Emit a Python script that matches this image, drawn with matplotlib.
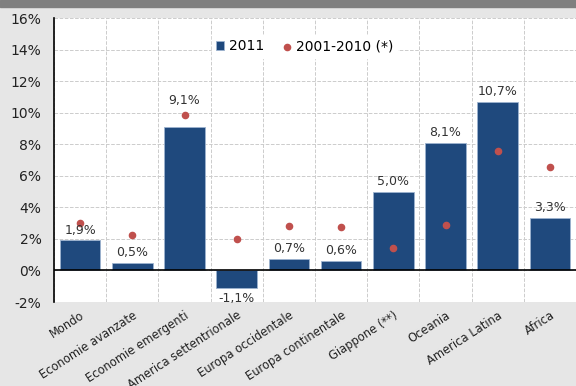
import matplotlib.pyplot as plt
import numpy as np

categories = ["Mondo", "Economie avanzate", "Economie emergenti", "America settentrionale",
              "Europa occidentale", "Europa continentale", "Giappone (**)", "Oceania",
              "America Latina", "Africa"]
growth_2011 = [1.9, 0.5, 9.1, -1.1, 0.7, 0.6, 5.0, 8.1, 10.7, 3.3]
avg_2001_2010 = [3.0, 2.25, 9.85, 2.0, 2.8, 2.75, 1.45, 2.85, 7.6, 6.55]
bar_labels = ["1,9%", "0,5%", "9,1%", "-1,1%", "0,7%", "0,6%", "5,0%", "8,1%", "10,7%", "3,3%"]
# extra lift of the value label (in % units) where the chart moved it above the dot
label_lift = [0.0, 0.0, 1.0, 0.0, 0.0, 0.0, 0.0, 0.0, 0.0, 0.0]

BAR_COLOR = '#1f497d'
DOT_COLOR = '#c0504d'

fig = plt.figure(figsize=(5.76, 3.86), dpi=100, facecolor='#e6e6e6')
# dark strip at top
fig.patches.append(plt.Rectangle((0, 0.982), 1, 0.018, transform=fig.transFigure,
                                 color='#7f7f7f', zorder=0))

ax = fig.add_axes([54/576, 1 - 302/386, (576 - 54)/576, (302 - 18)/386])
ax.set_facecolor('white')

x = np.arange(len(categories))
ax.bar(x, growth_2011, width=0.78, color=BAR_COLOR, edgecolor='#9db3cf', linewidth=0.6,
       zorder=3, label='2011')
ax.scatter(x, avg_2001_2010, s=20, color=DOT_COLOR, zorder=4, label='2001-2010 (*)')

for xi, v, lab, lift in zip(x, growth_2011, bar_labels, label_lift):
    if v >= 0:
        ax.text(xi, v + 0.25 + lift, lab, ha='center', va='bottom', fontsize=9,
                color='#333333', zorder=5)
    else:
        ax.text(xi, v - 0.25, lab, ha='center', va='top', fontsize=9,
                color='#333333', zorder=5)

ax.set_ylim(-2, 16)
ax.set_xlim(-0.5, 9.275)
ax.set_yticks(np.arange(-2, 17, 2))
ax.set_yticklabels([f"{t}%" for t in range(-2, 17, 2)])
ax.set_xticks(x)
ax.set_xticklabels(categories, rotation=33, ha='right', rotation_mode='anchor', fontsize=8.3)
ax.tick_params(axis='y', labelsize=10, length=0, pad=9, colors='#222222')
ax.tick_params(axis='x', length=0, pad=5, colors='#222222')

# grid
ax.set_xticks(np.arange(-0.5, 10, 1), minor=True)
ax.grid(True, which='minor', axis='x', linestyle='--', color='#cccccc', linewidth=0.7, zorder=0)
ax.grid(True, which='major', axis='y', linestyle='--', color='#cccccc', linewidth=0.7, zorder=0)
ax.tick_params(which='minor', length=0)
ax.axhline(0, color='black', linewidth=1.2, zorder=4)

for s in ['top', 'right', 'bottom']:
    ax.spines[s].set_visible(False)
ax.spines['left'].set_color('black')
ax.spines['left'].set_linewidth(1.2)

handles, labels = ax.get_legend_handles_labels()
order = [labels.index('2011'), labels.index('2001-2010 (*)')]
leg = ax.legend([handles[i] for i in order], [labels[i] for i in order],
                loc='center', bbox_to_anchor=(0.48, 0.90), ncol=2, fontsize=10,
                frameon=True, framealpha=1, edgecolor='white', fancybox=False,
                handlelength=0.6, handleheight=0.6, handletextpad=0.3,
                columnspacing=1.4, borderpad=0.3)
leg.set_zorder(6)

fig.savefig('out.png', dpi=100, facecolor=fig.get_facecolor())
